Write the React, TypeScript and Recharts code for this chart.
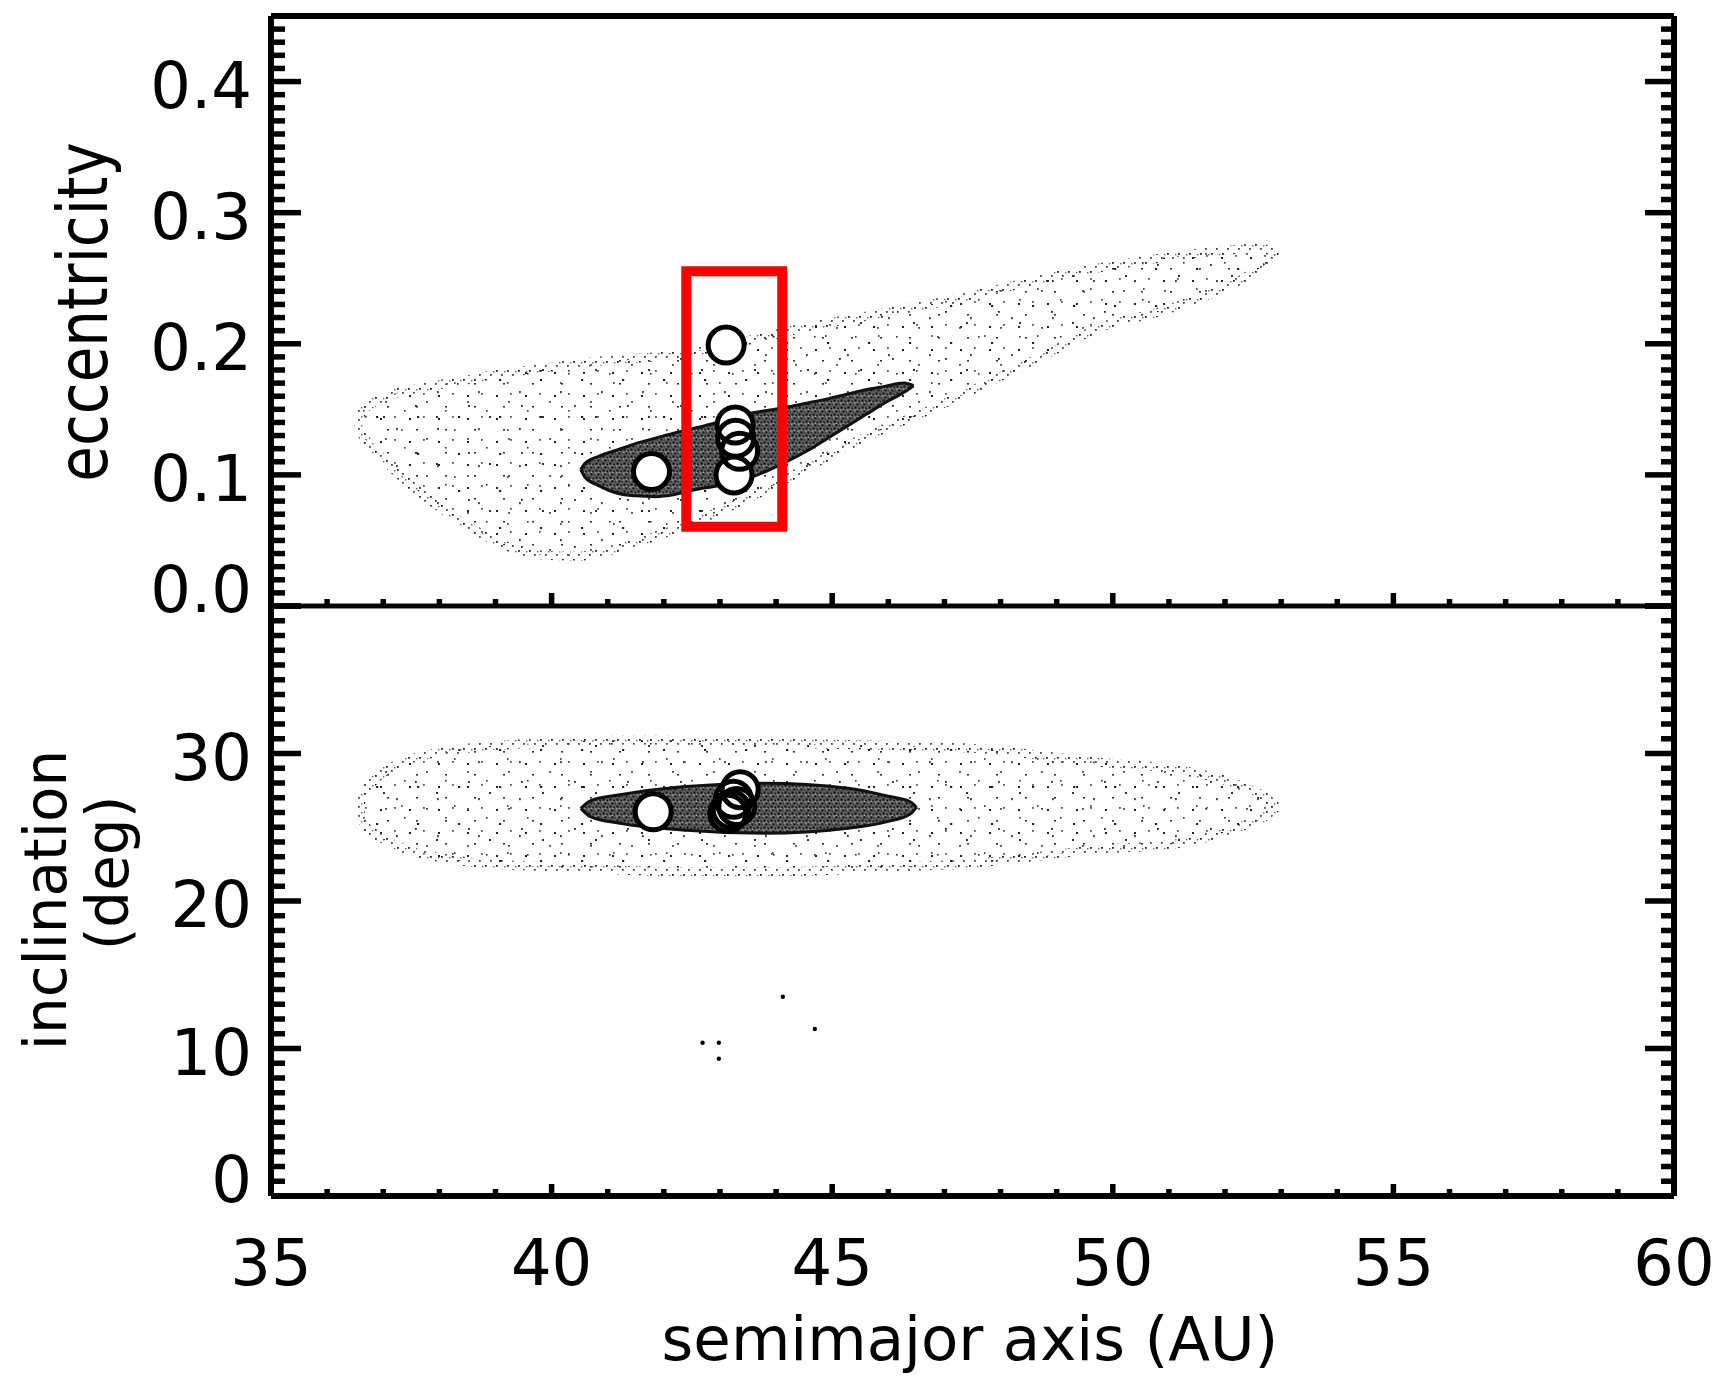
import React from 'react';
import { ComposedChart, XAxis, YAxis, Area, Scatter, ReferenceArea } from 'recharts';

const W = 1715;
const H = 1378;

// ---------- tick labels ----------
const xMajorTicks = [35, 40, 45, 50, 55, 60];
const xMinorTicks = [36, 37, 38, 39, 41, 42, 43, 44, 46, 47, 48, 49, 51, 52, 53, 54, 56, 57, 58, 59];
const xLabelTicks = [35, 40, 45, 50, 55, 60];
const eccMajorTicks = [0, 0.1, 0.2, 0.3, 0.4];
const eccLabelTicks = [0, 0.1, 0.2, 0.3, 0.4];
const incMajorTicks = [0, 10, 20, 30, 40];
const incLabelTicks = [0, 10, 20, 30];

const seq = (start: number, stop: number, step: number) => {
  const out: number[] = [];
  for (let k = Math.round(start / step); k * step <= stop + 1e-9; k++) out.push(+(k * step).toFixed(4));
  return out;
};
const eccMinorTicks = seq(0.01, 0.44, 0.01).filter((v) => Math.abs(v * 10 - Math.round(v * 10)) > 1e-6);
const incMinorTicks = seq(1, 39, 1).filter((v) => v % 10 !== 0);

// ---------- eccentricity panel: outer (sparse) cloud boundary ----------
const outerEccA = [36.56, 36.62, 36.75, 37.07, 37.76, 38.44, 39.12, 39.8, 40.48, 41.17, 41.85, 42.53, 43.55, 44.58, 45.6, 46.74, 48.0, 49.0, 49.77, 50.8, 51.5, 52.2, 52.6, 52.95];
const outerEccHigh = [0.139, 0.148, 0.153, 0.16, 0.167, 0.172, 0.1775, 0.181, 0.185, 0.188, 0.19, 0.194, 0.203, 0.213, 0.221, 0.23, 0.242, 0.252, 0.258, 0.265, 0.269, 0.272, 0.273, 0.268];
const outerEccLow = [0.139, 0.131, 0.124, 0.109, 0.083, 0.063, 0.047, 0.039, 0.038, 0.044, 0.053, 0.064, 0.083, 0.106, 0.129, 0.1495, 0.175, 0.196, 0.2125, 0.224, 0.234, 0.247, 0.257, 0.268];

// inner (dense) cloud boundary
const innerEccA = [40.52, 40.6, 40.83, 41.17, 41.51, 41.85, 42.19, 42.53, 42.87, 43.21, 43.55, 43.89, 44.23, 44.58, 44.92, 45.26, 45.6, 45.94, 46.28, 46.45];
const innerEccHigh = [0.104, 0.109, 0.114, 0.119, 0.124, 0.128, 0.132, 0.1355, 0.139, 0.143, 0.147, 0.1495, 0.152, 0.155, 0.158, 0.1615, 0.165, 0.1675, 0.17, 0.168];
const innerEccLow = [0.104, 0.098, 0.092, 0.086, 0.084, 0.0834, 0.085, 0.0885, 0.091, 0.0936, 0.098, 0.104, 0.111, 0.119, 0.128, 0.137, 0.146, 0.155, 0.163, 0.168];

// observed objects (open circles)
const eccCircleA = [41.78, 43.11, 43.27, 43.28, 43.35, 43.25];
const eccCircleE = [0.1025, 0.199, 0.138, 0.128, 0.118, 0.1];

// highlight box
const boxA = [42.4, 44.11];
const boxE = [0.0605, 0.2553];

// ---------- inclination panel ----------
const outerIncA = [36.57, 36.65, 36.8, 37.16, 38.27, 39.75, 41.22, 41.96, 43.44, 44.17, 45.66, 46.39, 47.5, 49.77, 51.17, 52.36, 52.7, 52.92];
const outerIncHigh = [26.28, 27.3, 28.0, 29.1, 30.24, 30.7, 30.9, 30.9, 30.8, 30.7, 30.58, 30.5, 30.35, 29.4, 28.9, 27.7, 27.1, 26.35];
const outerIncLow = [26.28, 25.3, 24.7, 23.9, 22.78, 22.33, 22.1, 22.0, 22.0, 22.0, 22.2, 22.33, 22.55, 23.5, 23.9, 25.15, 25.7, 26.35];

const innerIncA = [40.52, 40.7, 41.22, 42.33, 43.81, 45.28, 46.0, 46.39, 46.5];
const innerIncHigh = [26.28, 26.8, 27.2, 27.75, 27.98, 27.64, 27.1, 26.73, 26.35];
const innerIncLow = [26.28, 25.7, 25.27, 24.81, 24.59, 24.93, 25.4, 25.9, 26.35];

const incCircleA = [41.81, 43.36, 43.24, 43.3, 43.14, 43.2];
const incCircleI = [26.05, 27.55, 26.9, 26.4, 25.95, 26.2];

const strayA = [44.12, 44.69, 42.69, 42.98, 42.98];
const strayI = [13.51, 11.32, 10.39, 10.39, 9.31];

// ---------- tables ----------
const toRange = (xs: number[], lo: number[], hi: number[]) => xs.map((a, i) => ({ a, r: [lo[i], hi[i]] }));
const toPts = (xs: number[], ys: number[]) => xs.map((a, i) => ({ a, v: ys[i] }));

const outerEcc = toRange(outerEccA, outerEccLow, outerEccHigh);
const innerEcc = toRange(innerEccA, innerEccLow, innerEccHigh);
const eccCircles = toPts(eccCircleA, eccCircleE);
const outerInc = toRange(outerIncA, outerIncLow, outerIncHigh);
const innerInc = toRange(innerIncA, innerIncLow, innerIncHigh);
const incCircles = toPts(incCircleA, incCircleI);
const strays = toPts(strayA, strayI);

// ---------- styles ----------
const FONT = 'DejaVu Sans';
const TW = 5.5; // tick stroke width
const FRAME = 6;
const LINE = { stroke: '#000', strokeWidth: FRAME };

const isIn = (arr: number[], v: number) => arr.some((m) => Math.abs(m - v) < 1e-6);

type Side = 'left' | 'right' | 'top' | 'bottom';
// Tick marks drawn inward from the frame; optional label.
const makeTick = (side: Side, major: number[], majorLen: number, minorLen: number, labels: number[] | null, fmt: (v: number) => string) =>
  (props: any) => {
    const { x, y, payload } = props;
    const v = payload.value;
    const big = isIn(major, v);
    const len = big ? majorLen : minorLen;
    let line;
    if (side === 'left') line = <line x1={x} y1={y} x2={x + len} y2={y} stroke="#000" strokeWidth={TW} />;
    else if (side === 'right') line = <line x1={x} y1={y} x2={x - len} y2={y} stroke="#000" strokeWidth={TW} />;
    else if (side === 'top') line = <line x1={x} y1={y} x2={x} y2={y + len} stroke="#000" strokeWidth={TW} />;
    else line = <line x1={x} y1={y} x2={x} y2={y - len} stroke="#000" strokeWidth={TW} />;
    let label = null;
    if (labels && isIn(labels, v)) {
      if (side === 'left') {
        const dy = Math.abs(v) < 1e-9 ? -20 : 0;
        label = (
          <text x={x - 19} y={y + 26 + dy} textAnchor="end" fontFamily={FONT} fontSize={64} fill="#000">{fmt(v)}</text>
        );
      } else if (side === 'bottom') {
        label = (
          <text x={x} y={y + 89} textAnchor="middle" fontFamily={FONT} fontSize={64} fill="#000">{fmt(v)}</text>
        );
      }
    }
    return (
      <g>
        {line}
        {label}
      </g>
    );
  };

const fmt1 = (v: number) => v.toFixed(1);
const fmt0 = (v: number) => String(Math.round(v));

// top panel ticks
const EccLeft = makeTick('left', eccMajorTicks, 30, 14, eccLabelTicks, fmt1);
const EccRight = makeTick('right', eccMajorTicks, 29, 13, null, fmt1);
const EccTop = makeTick('top', xMajorTicks, 14, 8, null, fmt0);
const EccBottom = makeTick('bottom', xMajorTicks, 13, 7, null, fmt0);
// bottom panel ticks
const IncLeft = makeTick('left', incMajorTicks, 30, 14, incLabelTicks, fmt0);
const IncRight = makeTick('right', incMajorTicks, 29, 13, null, fmt0);
const IncTop = makeTick('top', xMajorTicks, 14, 7, null, fmt0);
const IncBottom = makeTick('bottom', xMajorTicks, 12, 7, xLabelTicks, fmt0);

const allX = [...xMajorTicks, ...xMinorTicks].sort((p, q) => p - q);
const allEcc = [...eccMajorTicks, ...eccMinorTicks].sort((p, q) => p - q);
const allInc = [...incMajorTicks, ...incMinorTicks].sort((p, q) => p - q);

const WhiteDisc = (p: any) => <circle cx={p.cx} cy={p.cy} r={18} fill="#fff" />;
const Ring = (p: any) => <circle cx={p.cx} cy={p.cy} r={18} fill="none" stroke="#000" strokeWidth={5} />;
const Speck = (p: any) => <circle cx={p.cx} cy={p.cy} r={2.2} fill="#000" />;

const frameAxes = (domain: number[], yTicks: number[], Left: any, Right: any, Top: any, Bottom: any, topLine: number, bottomLine: number) => [
  <XAxis key="b" xAxisId="b" dataKey="a" type="number" domain={[35, 60]} allowDataOverflow orientation="bottom" height={1} ticks={allX} interval={0} tickSize={0} tickMargin={0} tickLine={false} tick={<Bottom />} axisLine={{ stroke: '#000', strokeWidth: bottomLine }} />,
  <XAxis key="t" xAxisId="t" type="number" domain={[35, 60]} allowDataOverflow orientation="top" height={1} ticks={allX} interval={0} tickSize={0} tickMargin={0} tickLine={false} tick={<Top />} axisLine={{ stroke: '#000', strokeWidth: topLine }} />,
  <YAxis key="l" yAxisId="l" dataKey="v" type="number" domain={domain} allowDataOverflow orientation="left" width={1} ticks={yTicks} interval={0} tickSize={0} tickMargin={0} tickLine={false} tick={<Left />} axisLine={LINE} />,
  <YAxis key="r" yAxisId="r" type="number" domain={domain} allowDataOverflow orientation="right" width={1} ticks={yTicks} interval={0} tickSize={0} tickMargin={0} tickLine={false} tick={<Right />} axisLine={LINE} />,
];

const Patterns = () => (
  <svg width={0} height={0} style={{ position: 'absolute' }}>
    <defs>
      <pattern id="sparseA" patternUnits="userSpaceOnUse" width={29} height={23}>
        <rect x={3} y={4} width={2} height={2} fill="#222" />
        <rect x={17} y={2} width={1.8} height={1.8} fill="#555" />
        <rect x={10} y={15} width={2} height={1.6} fill="#333" />
      </pattern>
      <pattern id="sparseB" patternUnits="userSpaceOnUse" width={41} height={37}>
        <rect x={7} y={9} width={2.2} height={2} fill="#222" />
        <rect x={27} y={21} width={1.8} height={2.2} fill="#444" />
        <rect x={16} y={31} width={2} height={1.8} fill="#555" />
        <rect x={35} y={3} width={1.6} height={1.6} fill="#333" />
      </pattern>
      <pattern id="sparseC" patternUnits="userSpaceOnUse" width={53} height={47}>
        <rect x={12} y={40} width={2} height={2} fill="#333" />
        <rect x={44} y={29} width={1.8} height={1.8} fill="#222" />
        <rect x={30} y={6} width={1.6} height={2} fill="#555" />
      </pattern>
      <pattern id="edgeDots" patternUnits="userSpaceOnUse" width={11} height={9}>
        <rect x={1} y={1} width={1.8} height={1.8} fill="#222" />
        <rect x={6} y={5} width={1.8} height={1.8} fill="#444" />
        <rect x={9} y={2} width={1.4} height={1.4} fill="#666" />
      </pattern>
      <pattern id="dense" patternUnits="userSpaceOnUse" width={7} height={7}>
        <rect x={0} y={0} width={7} height={7} fill="#5e5e5e" />
        <rect x={0.5} y={0.5} width={2} height={2} fill="#0a0a0a" />
        <rect x={4.2} y={1.6} width={1.8} height={1.8} fill="#1a1a1a" />
        <rect x={2.4} y={4.4} width={2} height={2} fill="#111" />
        <rect x={5.6} y={5.2} width={1.4} height={1.4} fill="#333" />
        <rect x={0.3} y={3.6} width={1} height={1} fill="#ddd" />
        <rect x={3.3} y={2.9} width={1} height={1} fill="#ccc" />
      </pattern>
    </defs>
  </svg>
);

const cloudLayers = (outer: any[], inner: any[]) => [
  <Area key="o1" xAxisId="b" yAxisId="l" data={outer} dataKey="r" type="monotone" fill="url(#sparseA)" fillOpacity={1} stroke="url(#edgeDots)" strokeWidth={9} dot={false} activeDot={false} isAnimationActive={false} />,
  <Area key="o2" xAxisId="b" yAxisId="l" data={outer} dataKey="r" type="monotone" fill="url(#sparseB)" fillOpacity={1} stroke="none" dot={false} activeDot={false} isAnimationActive={false} />,
  <Area key="o3" xAxisId="b" yAxisId="l" data={outer} dataKey="r" type="monotone" fill="url(#sparseC)" fillOpacity={1} stroke="none" dot={false} activeDot={false} isAnimationActive={false} />,
  <Area key="i1" xAxisId="b" yAxisId="l" data={inner} dataKey="r" type="monotone" fill="url(#dense)" fillOpacity={1} stroke="#111" strokeWidth={3} dot={false} activeDot={false} isAnimationActive={false} />,
];

export default function App() {
  return (
    <div style={{ position: 'absolute', left: 0, top: 0, width: W, height: H, background: '#fff' }}>
      <Patterns />
      <div style={{ position: 'absolute', left: 0, top: 0 }}>
        <ComposedChart width={W} height={H} margin={{ top: 15, right: 40, bottom: H - 607, left: 270 }}>
          {frameAxes([0, 0.45], allEcc, EccLeft, EccRight, EccTop, EccBottom, FRAME, 4.5)}
          {cloudLayers(outerEcc, innerEcc)}
          <Scatter xAxisId="b" yAxisId="l" data={eccCircles} dataKey="v" shape={WhiteDisc} isAnimationActive={false} />
          <Scatter xAxisId="b" yAxisId="l" data={eccCircles} dataKey="v" shape={Ring} isAnimationActive={false} />
          <ReferenceArea xAxisId="b" yAxisId="l" x1={boxA[0]} x2={boxA[1]} y1={boxE[0]} y2={boxE[1]} fill="none" fillOpacity={0} stroke="#ff0000" strokeWidth={10} ifOverflow="visible" />
        </ComposedChart>
      </div>
      <div style={{ position: 'absolute', left: 0, top: 0 }}>
        <ComposedChart width={W} height={H} margin={{ top: 605, right: 40, bottom: H - 1197, left: 270 }}>
          {frameAxes([0, 40], allInc, IncLeft, IncRight, IncTop, IncBottom, 4.5, FRAME)}
          {cloudLayers(outerInc, innerInc)}
          <Scatter xAxisId="b" yAxisId="l" data={incCircles} dataKey="v" shape={WhiteDisc} isAnimationActive={false} />
          <Scatter xAxisId="b" yAxisId="l" data={incCircles} dataKey="v" shape={Ring} isAnimationActive={false} />
          <Scatter xAxisId="b" yAxisId="l" data={strays} dataKey="v" shape={Speck} isAnimationActive={false} />
        </ComposedChart>
      </div>
      <svg width={W} height={H} style={{ position: 'absolute', left: 0, top: 0, pointerEvents: 'none' }}>
        <text transform="translate(107,312) rotate(-90) scale(1,1.2)" textAnchor="middle" fontFamily={FONT} fontSize={58} fill="#000">eccentricity</text>
        <text transform="translate(66,900) rotate(-90)" textAnchor="middle" fontFamily={FONT} fontSize={58} fill="#000">inclination</text>
        <text transform="translate(128,873) rotate(-90)" textAnchor="middle" fontFamily={FONT} fontSize={58} fill="#000">(deg)</text>
        <text x={970} y={1360} textAnchor="middle" fontFamily={FONT} fontSize={61} fill="#000">semimajor axis (AU)</text>
      </svg>
    </div>
  );
}
